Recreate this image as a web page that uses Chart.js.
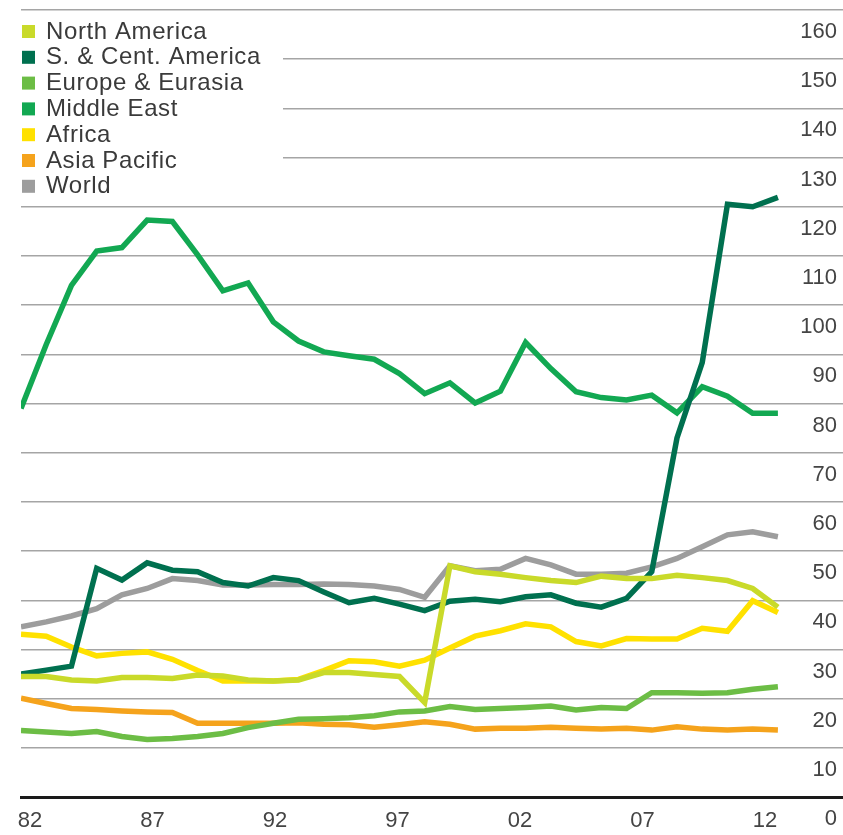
<!DOCTYPE html>
<html>
<head>
<meta charset="utf-8">
<script src="https://cdn.jsdelivr.net/npm/chart.js@4/dist/chart.umd.min.js"></script>
<style>
  html, body { margin: 0; padding: 0; background: #fff; }
  #wrap { width: 843px; height: 835px; position: relative; }
</style>
</head>
<body>
<div id="wrap"><canvas id="c"></canvas></div>
<script>
const years = [1982,1983,1984,1985,1986,1987,1988,1989,1990,1991,1992,1993,1994,1995,1996,1997,1998,1999,2000,2001,2002,2003,2004,2005,2006,2007,2008,2009,2010,2011,2012];

const northAmerica = [24.5,24.5,23.8,23.6,24.3,24.3,24.1,24.8,24.6,23.8,23.6,23.8,25.3,25.3,24.9,24.5,19.2,47.0,45.8,45.3,44.6,44.0,43.6,44.9,44.4,44.4,45.1,44.6,44.0,42.4,38.6];
const southCentAmerica = [25.0,25.8,26.6,46.5,44.1,47.6,46.1,45.8,43.6,42.9,44.6,44.0,41.7,39.5,40.4,39.2,37.9,39.8,40.2,39.7,40.7,41.1,39.4,38.6,40.4,45.8,73.0,88.3,120.5,120.0,121.9];
const europeEurasia = [13.5,13.2,12.9,13.3,12.3,11.7,11.9,12.3,12.9,14.1,15.0,15.8,15.9,16.1,16.5,17.3,17.5,18.4,17.8,18.0,18.2,18.5,17.7,18.2,18.0,21.2,21.2,21.1,21.2,21.9,22.4];
const middleEast = [79.0,92.0,104.0,111.0,111.7,117.3,117.0,110.2,102.9,104.5,96.6,92.7,90.5,89.7,89.0,86.1,82.0,84.2,80.1,82.5,92.4,87.1,82.4,81.2,80.7,81.7,78.1,83.4,81.5,78.0,78.0];
const africa = [33.1,32.7,30.5,28.7,29.2,29.5,28.0,25.7,23.6,23.6,23.6,23.9,25.7,27.7,27.5,26.6,27.8,30.3,32.7,33.8,35.2,34.6,31.6,30.7,32.2,32.1,32.1,34.3,33.7,39.9,37.5];
const asiaPacific = [20.1,19.0,18.0,17.8,17.5,17.3,17.2,15.0,15.0,15.0,15.0,15.1,14.8,14.7,14.2,14.7,15.3,14.8,13.8,14.0,14.0,14.2,14.0,13.8,14.0,13.6,14.3,13.8,13.6,13.8,13.6];
const world = [34.6,35.6,36.8,38.3,41.1,42.4,44.4,44.0,43.1,43.1,43.2,43.2,43.3,43.2,42.9,42.2,40.6,47.0,46.0,46.3,48.5,47.2,45.3,45.3,45.5,46.8,48.5,50.9,53.3,53.9,52.9];

const seriesNames = ['North America','S. & Cent. America','Europe & Eurasia','Middle East','Africa','Asia Pacific','World'];
const seriesColors = ['#c9da2a','#00704f','#6cbd45','#12a852','#ffe100','#f5a31c','#9d9d9d'];
const xTickYears = [1982,1987,1992,1997,2002,2007,2012];
const xTickLabels = ['82','87','92','97','02','07','12'];
const yTickValues = [0,10,20,30,40,50,60,70,80,90,100,110,120,130,140,150,160];

const seriesValues = [northAmerica, southCentAmerica, europeEurasia, middleEast, africa, asiaPacific, world];

const datasets = seriesNames.map((name, i) => ({
  label: name,
  data: years.map((y, k) => ({x: y, y: seriesValues[i][k]})),
  borderColor: seriesColors[i],
  backgroundColor: seriesColors[i],
  borderWidth: 5.5,
  pointRadius: 0,
  tension: 0,
  fill: false
}));

const legendPlugin = {
  id: 'boxLegend',
  beforeDatasetsDraw(chart) {
    const ctx = chart.ctx;
    ctx.save();
    ctx.fillStyle = '#ffffff';
    ctx.fillRect(0, 15, 283, 186);
    ctx.font = '24px "Liberation Sans", Arial, sans-serif';
    try { ctx.letterSpacing = '0.6px'; } catch (e) {}
    ctx.textBaseline = 'middle';
    ctx.textAlign = 'left';
    seriesNames.forEach((name, i) => {
      const cy = 31 + i * 25.8;
      ctx.fillStyle = seriesColors[i];
      ctx.fillRect(22, cy - 6, 13, 13);
      ctx.fillStyle = '#3a3a3a';
      ctx.fillText(name, 46, cy + 1);
    });
    ctx.restore();
  }
};

new Chart(document.getElementById('c'), {
  type: 'line',
  data: { datasets },
  options: {
    responsive: true,
    maintainAspectRatio: false,
    animation: false,
    events: [],
    layout: { padding: { left: 21, top: 10, right: 0, bottom: 0 } },
    plugins: { legend: { display: false }, tooltip: { enabled: false } },
    scales: {
      x: {
        type: 'linear',
        display: false,
        min: 1982,
        max: 2014.58
      },
      xl: {
        type: 'linear',
        position: 'bottom',
        min: 1981.633,
        max: 2015.18,
        afterBuildTicks: (axis) => { axis.ticks = xTickYears.map(v => ({ value: v })); },
        afterFit: (axis) => { axis.paddingLeft = 0; axis.paddingRight = 0; axis.height = 38; },
        ticks: {
          autoSkip: false,
          maxRotation: 0,
          padding: 11,
          color: '#444444',
          font: { size: 22, family: '"Liberation Sans", Arial, sans-serif' },
          callback: (v) => xTickLabels[xTickYears.indexOf(v)]
        },
        grid: { display: false, drawTicks: false },
        border: { display: true, color: '#1a1a1a', width: 3 }
      },
      y: {
        position: 'right',
        min: 0,
        max: 160,
        afterBuildTicks: (axis) => { axis.ticks = yTickValues.map(v => ({ value: v })); },
        afterFit: (axis) => { axis.width = 0; axis.paddingTop = 0; axis.paddingBottom = 0; },
        ticks: {
          mirror: true,
          padding: -6,
          labelOffset: 22,
          color: '#444444',
          font: { size: 22, family: '"Liberation Sans", Arial, sans-serif' }
        },
        grid: { color: '#a5a5a5', lineWidth: 1.5, drawTicks: false },
        border: { display: false }
      }
    }
  },
  plugins: [legendPlugin]
});
</script>
</body>
</html>
